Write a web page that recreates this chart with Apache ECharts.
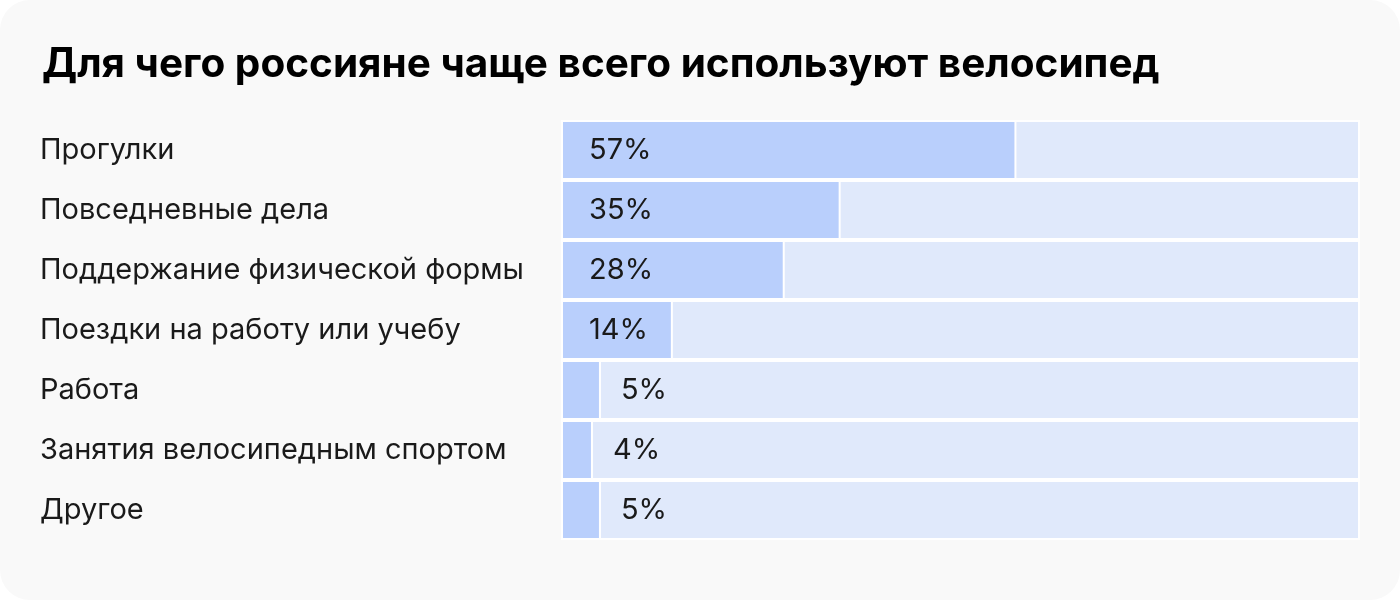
<!DOCTYPE html>
<html>
<head>
<meta charset="utf-8">
<script src="https://cdn.jsdelivr.net/npm/echarts@6/dist/echarts.min.js"></script>
<style>
  html, body { margin: 0; padding: 0; background: #fff; }
  #chart {
    width: 1400px;
    height: 600px;
    background: #f9f9f9;
    border-radius: 30px;
    overflow: hidden;
  }
</style>
</head>
<body>
<div id="chart"></div>
<script>
const title = 'Для чего россияне чаще всего используют велосипед';
const categories = [
  'Прогулки',
  'Повседневные дела',
  'Поддержание физической формы',
  'Поездки на работу или учебу',
  'Работа',
  'Занятия велосипедным спортом',
  'Другое'
];
const values = [57, 35, 28, 14, 5, 4, 5];
const total = [100, 100, 100, 100, 100, 100, 100];

const fontFamily = 'Inter, "Liberation Sans", Arial, sans-serif';

const chart = echarts.init(document.getElementById('chart'));

// маленькие значения подписываем справа от столбика
const valueData = values.map(v => ({
  value: v,
  label: v >= 10
    ? { position: 'insideLeft', distance: 28 }
    : { position: 'right', distance: 20 }
}));

chart.setOption({
  backgroundColor: 'transparent',
  animation: false,
  title: {
    text: title,
    left: 37,
    top: 39,
    textStyle: {
      fontFamily: fontFamily,
      fontSize: 40.5,
      fontWeight: 'bold',
      color: '#000'
    }
  },
  grid: {
    left: 561,
    right: 40,
    top: 120,
    bottom: 60
  },
  xAxis: {
    type: 'value',
    min: 0,
    max: 100,
    show: false
  },
  yAxis: {
    type: 'category',
    inverse: true,
    data: categories,
    axisLine: { show: false },
    axisTick: { show: false },
    splitLine: { show: false },
    axisLabel: {
      align: 'left',
      margin: 521,
      fontFamily: fontFamily,
      fontSize: 29,
      color: '#1a1a1a'
    }
  },
  series: [
    {
      type: 'bar',
      data: total,
      barWidth: '100%',
      silent: true,
      itemStyle: {
        color: '#e0e9fb',
        borderColor: '#fff',
        borderWidth: 2
      },
      z: 1
    },
    {
      type: 'bar',
      data: valueData,
      barWidth: '100%',
      barGap: '-100%',
      itemStyle: {
        color: '#b9cffc',
        borderColor: '#fff',
        borderWidth: 2
      },
      label: {
        show: true,
        formatter: '{c}%',
        fontFamily: fontFamily,
        fontSize: 29,
        color: '#1a1a1a'
      },
      z: 2
    }
  ]
});
</script>
</body>
</html>
